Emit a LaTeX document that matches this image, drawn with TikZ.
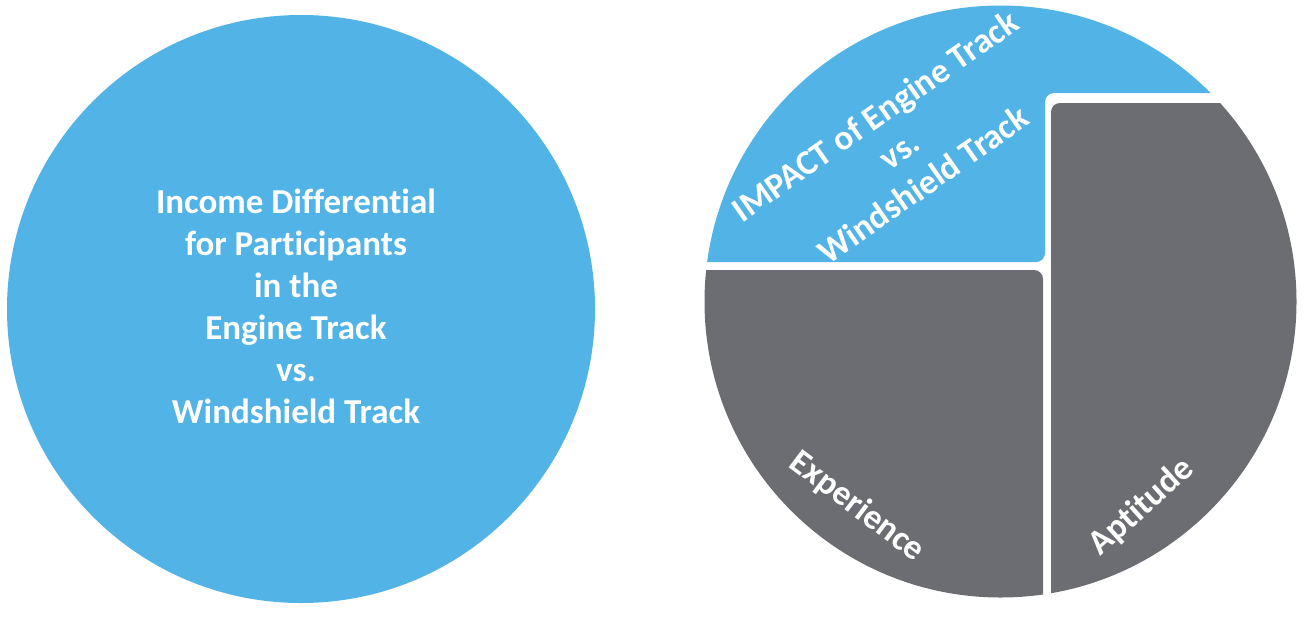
\documentclass[tikz,border=0pt]{standalone}
\usepackage{fontspec}
\setmainfont{Carlito}[Ligatures=CommonOff]
\definecolor{cblue}{RGB}{81,179,230}
\definecolor{cgray}{RGB}{108,109,114}
\tikzset{
  lbl/.style={text=white, font=\fontsize{35}{42}\selectfont\bfseries, align=center, inner sep=0pt},
  piece/.style={rounded corners=9pt}
}
\begin{document}
\begin{tikzpicture}[x=1pt,y=-1pt]
\useasboundingbox (0,0) rectangle (1314,630);
\fill[white] (0,0) rectangle (1314,630);
% left circle
\node[circle, fill=cblue, minimum size=588pt, inner sep=0pt] (lc) at (301,309) {};
\node[lbl] (inc) at (296,306) {Income Differential\\for Participants\\in the\\Engine Track\\vs.\\Windshield Track};
% right segmented circle
\coordinate (rc) at (1000.5,301.5);
\begin{scope}
\clip (rc) circle (296pt);
\fill[cblue, piece] (690,-10) -- (690,262) -- (1045,262) -- (1045,93) -- (1320,93) -- (1320,-10) -- cycle;
\fill[cgray, piece] (1051,103) -- (1320,103) -- (1320,620) -- (1051,620) -- cycle;
\fill[cgray, piece] (690,270) -- (1043,270) -- (1043,620) -- (690,620) -- cycle;
\end{scope}
\node[lbl, rotate=35] (imp) at (899,150) {IMPACT of Engine Track\\vs.\\Windshield Track};
\node[lbl, rotate=-37] (exp) at (857,507) {Experience};
\node[lbl, rotate=42] (apt) at (1142,507) {Aptitude};
\end{tikzpicture}
\end{document}
